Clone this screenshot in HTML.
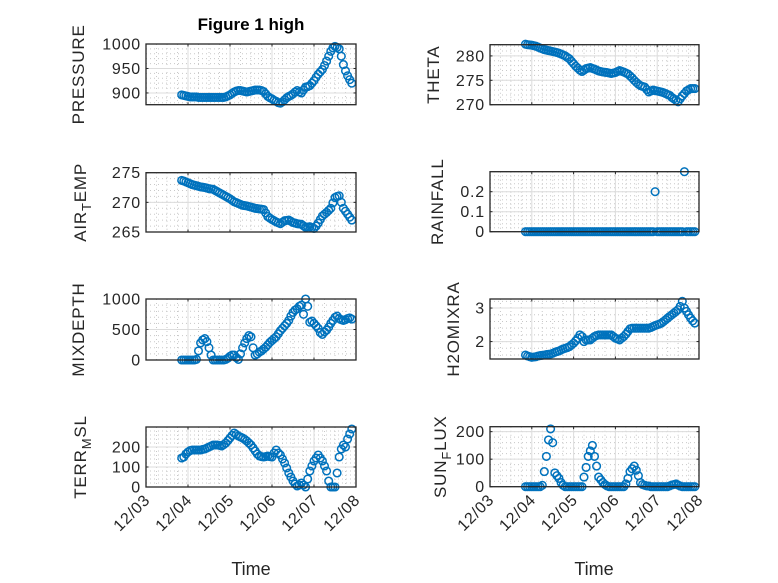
<!DOCTYPE html>
<html><head><meta charset="utf-8">
<style>
html,body{margin:0;padding:0;background:#fff;}
svg{display:block;font-family:"Liberation Sans",sans-serif;}
</style></head>
<body>
<svg id="fig" width="778" height="583" viewBox="0 0 778 583" xmlns="http://www.w3.org/2000/svg">
<rect width="778" height="583" fill="#fff"/>
<text x="251" y="30" text-anchor="middle" font-size="17" font-weight="bold" fill="#000">Figure 1 high</text>
<text x="251" y="575" text-anchor="middle" font-size="18" fill="#262626">Time</text>
<text x="594" y="575" text-anchor="middle" font-size="18" fill="#262626">Time</text>
</svg>
<script>
const T = [0.85,0.9,0.95,1.0,1.05,1.1,1.15,1.2,1.25,1.3,1.35,1.4,1.45,1.5,1.55,1.6,1.65,1.7,1.75,1.8,1.85,1.9,1.95,2.0,2.05,2.1,2.15,2.2,2.25,2.3,2.35,2.4,2.45,2.5,2.55,2.6,2.65,2.7,2.75,2.8,2.85,2.9,2.95,3.0,3.05,3.1,3.15,3.2,3.25,3.3,3.35,3.4,3.45,3.5,3.55,3.6,3.65,3.7,3.75,3.8,3.85,3.9,3.95,4.0,4.05,4.1,4.15,4.2,4.25,4.3,4.35,4.4,4.45,4.5,4.55,4.6,4.65,4.7,4.75,4.8,4.85,4.9];
const pressure = [896,895,894,893,892,892,892,892,891,891,891,891,891,891,891,891,891,891,891,891,891,892,894,896,899,902,904,905,905,904,903,902,903,904,905,906,906,906,905,903,898,893,890,888,885,883,880,879,882,886,890,893,895,898,902,905,902,900,906,912,913,915,920,925,932,938,943,948,956,965,975,985,992,995,993,990,975,958,945,935,927,920];
const airTemp = [273.7,273.6,273.45,273.3,273.15,273.0,272.9,272.8,272.7,272.6,272.55,272.5,272.4,272.3,272.25,272.2,272.0,271.8,271.6,271.4,271.2,271.0,270.8,270.6,270.35,270.1,269.95,269.8,269.65,269.5,269.45,269.4,269.3,269.2,269.1,269.0,268.95,268.9,268.85,268.8,268.2,267.6,267.35,267.1,266.9,266.7,266.55,266.4,266.65,266.9,266.95,267.0,266.8,266.6,266.5,266.4,266.35,266.3,266.05,265.8,265.85,265.9,265.75,265.6,266.0,266.5,267.1,267.7,268.0,268.3,268.65,269.0,269.9,270.8,271.0,271.1,270.0,269.0,268.5,268.0,267.5,267.0];
const mixDepth = [0,0,0,0,0,0,0,10,150,280,330,350,300,200,80,0,0,0,0,0,0,10,30,60,80,80,40,10,100,200,280,350,400,380,200,80,100,130,150,180,210,250,290,320,350,380,430,480,520,560,600,650,720,780,820,840,880,900,750,1000,880,620,640,600,560,520,450,420,460,490,540,600,650,700,720,680,660,650,660,680,690,670];
const terrMsl = [145,150,165,175,182,185,185,185,185,185,188,190,195,200,205,210,210,210,208,205,212,220,232,245,258,270,262,255,250,245,238,230,220,210,195,180,165,155,152,150,152,155,152,150,170,185,170,160,140,120,95,70,50,30,15,5,10,20,10,0,40,80,105,130,145,160,145,130,105,80,30,0,0,0,70,150,190,210,200,240,265,290];
const theta = [282.4,282.3,282.25,282.2,282.1,282.0,281.8,281.6,281.45,281.3,281.2,281.1,281.0,280.9,280.8,280.7,280.55,280.4,280.2,280.0,279.7,279.4,278.9,278.4,277.9,277.5,277.1,276.8,277.1,277.4,277.5,277.6,277.45,277.3,277.1,276.9,276.8,276.7,276.65,276.6,276.5,276.4,276.5,276.6,276.8,277.0,276.85,276.7,276.5,276.3,275.9,275.5,275.0,274.6,274.2,273.9,273.75,273.6,273.1,272.6,272.8,273.0,272.9,272.8,272.7,272.6,272.45,272.3,272.1,271.9,271.5,271.2,270.9,270.6,271.2,271.8,272.3,272.8,273.05,273.3,273.3,273.3];
const rainfall = [0,0,0,0,0,0,0,0,0,0, 0,0,0,0,0,0,0,0,0,0, 0,0,0,0,0,0,0,0,0,0, 0,0,0,0,0,0,0,0,0,0, 0,0,0,0,0,0,0,0,0,0, 0,0,0,0,0,0,0,0,0,0, 0,0,0.2,0,0,0,0,0,0,0, 0,0,0,0,0,0,0.3,0,0,0, 0,0];
const h2o = [1.6,1.57,1.55,1.53,1.54,1.55,1.57,1.58,1.59,1.6,1.61,1.62,1.63,1.65,1.68,1.7,1.72,1.75,1.78,1.8,1.82,1.85,1.9,1.95,2.02,2.1,2.2,2.15,2.0,2.05,2.05,2.05,2.1,2.15,2.18,2.2,2.2,2.2,2.2,2.2,2.2,2.2,2.15,2.1,2.08,2.05,2.1,2.15,2.22,2.3,2.38,2.4,2.4,2.4,2.4,2.4,2.4,2.4,2.4,2.4,2.42,2.45,2.48,2.5,2.52,2.55,2.6,2.65,2.7,2.75,2.8,2.85,2.9,2.95,3.05,3.2,3.0,2.9,2.8,2.7,2.62,2.55];
const sunFlux = [0,0,0,0,0,0,0,0,5,55,110,170,210,160,50,40,30,15,5,0,0,0,0,0,0,0,0,0,35,70,110,130,150,110,75,35,25,15,8,3,0,0,0,0,0,0,0,0,10,30,55,65,75,60,40,15,8,5,3,2,0,0,0,0,0,0,0,0,0,3,6,8,10,6,2,0,0,0,0,0,0,0];
const xTickLabels = ['12/03','12/04','12/05','12/06','12/07','12/08'];
const xTickDays = [0,1,2,3,4,5];

const NS='http://www.w3.org/2000/svg';
const svg=document.getElementById('fig');
function el(tag,attrs,parent){const e=document.createElementNS(NS,tag);for(const k in attrs)e.setAttribute(k,attrs[k]);(parent||svg).appendChild(e);return e;}

const panels=[
 {key:'pressure',x0:146,x1:356,y0:44,y1:104.7,ymin:876,ymax:1000,yt:[900,950,1000],ym:10,v:pressure,lab:['PRESSURE'],lx:84},
 {key:'air-temp',x0:146,x1:356,y0:172.7,y1:232,ymin:265,ymax:275,yt:[265,270,275],ym:1,v:airTemp,lab:['AIR','T','EMP'],lx:86},
 {key:'mixdepth',x0:146,x1:356,y0:299,y1:360,ymin:0,ymax:1000,yt:[0,500,1000],ym:100,v:mixDepth,lab:['MIXDEPTH'],lx:84},
 {key:'terr-msl',x0:146,x1:356,y0:427,y1:487,ymin:0,ymax:300,yt:[0,100,200],ym:20,v:terrMsl,lab:['TERR','M','SL'],lx:86},
 {key:'theta',x0:490,x1:699,y0:44.7,y1:104.7,ymin:270,ymax:282.3,yt:[270,275,280],ym:1,v:theta,lab:['THETA'],lx:439},
 {key:'rainfall',x0:490,x1:699,y0:171.7,y1:231.7,ymin:0,ymax:0.3,yt:[0,0.1,0.2],ym:0.02,v:rainfall,lab:['RAINFALL'],lx:443},
 {key:'h2omixra',x0:490,x1:699,y0:299,y1:359,ymin:1.48,ymax:3.27,yt:[2,3],ym:0.2,v:h2o,lab:['H2OMIXRA'],lx:459},
 {key:'sun-flux',x0:490,x1:699,y0:426.7,y1:486.7,ymin:0,ymax:218,yt:[0,100,200],ym:20,v:sunFlux,lab:['SUN','F','LUX'],lx:446}
];

panels.forEach((p,pi)=>{
  const g=el('g',{});
  
  
  const xs=d=>p.x0+(p.x1-p.x0)*d/5;
  const ys=v=>p.y1-(p.y1-p.y0)*(v-p.ymin)/(p.ymax-p.ymin);
  el('rect',{x:p.x0,y:p.y0,width:p.x1-p.x0,height:p.y1-p.y0,fill:'#fff'},g);
  for(let d=0;d<5;d+=0.25){if(d%1===0)continue;const x=xs(d);el('line',{x1:x,x2:x,y1:p.y0,y2:p.y1,stroke:'#c8c8c8','stroke-width':1,'stroke-dasharray':'1,3'},g);}
  const k0=Math.ceil(p.ymin/p.ym-1e-9);
  for(let k=k0;k*p.ym<=p.ymax+1e-9;k++){const v=k*p.ym;const y=ys(v);el('line',{x1:p.x0,x2:p.x1,y1:y,y2:y,stroke:'#c8c8c8','stroke-width':1,'stroke-dasharray':'1,3'},g);}
  xTickDays.forEach(d=>{const x=xs(d);el('line',{x1:x,x2:x,y1:p.y0,y2:p.y1,stroke:'#dcdcdc','stroke-width':1},g);});
  p.yt.forEach(v=>{const y=ys(v);el('line',{x1:p.x0,x2:p.x1,y1:y,y2:y,stroke:'#dcdcdc','stroke-width':1},g);});
  xTickDays.forEach(d=>{const x=xs(d);el('line',{x1:x,x2:x,y1:p.y1,y2:p.y1-2.5,stroke:'#262626'},g);el('line',{x1:x,x2:x,y1:p.y0,y2:p.y0+2.5,stroke:'#262626'},g);});
  p.yt.forEach(v=>{const y=ys(v);el('line',{x1:p.x0,x2:p.x0+2.5,y1:y,y2:y,stroke:'#262626'},g);el('line',{x1:p.x1,x2:p.x1-2.5,y1:y,y2:y,stroke:'#262626'},g);
    const t=el('text',{x:p.x0-5,y:y+5.5,'text-anchor':'end','font-size':16,'letter-spacing':0.8,fill:'#262626'},g);
    
    
    t.textContent=String(v);});
  for(let i=0;i<p.v.length;i++){
    const c=el('circle',{cx:xs(T[i]).toFixed(1),cy:ys(p.v[i]).toFixed(1),r:3.8,fill:'none',stroke:'#0072BD','stroke-width':1.5},g);
    
    
  }
  el('rect',{x:p.x0,y:p.y0,width:p.x1-p.x0,height:p.y1-p.y0,fill:'none',stroke:'#262626','stroke-width':1.3},g);
  const cy=(p.y0+p.y1)/2;
  const yl=el('text',{x:0,y:0,transform:`translate(${p.lx},${cy}) rotate(-90)`,'text-anchor':'middle','font-size':17,'letter-spacing':0.8,fill:'#262626'});
  
  
  if(p.lab.length===1){yl.textContent=p.lab[0];}
  else{
    const a=el('tspan',{},yl);a.textContent=p.lab[0];
    const b=el('tspan',{dy:5,'font-size':13},yl);b.textContent=p.lab[1];
    const c=el('tspan',{dy:-5},yl);c.textContent=p.lab[2];
  }
  if(pi===3||pi===7){
    xTickDays.forEach((d,i)=>{const x=xs(d);
      const t=el('text',{x:0,y:0,transform:`translate(${x+5},${p.y1+14}) rotate(-45)`,'text-anchor':'end','font-size':16,'letter-spacing':0.8,fill:'#262626'});
      
      
      t.textContent=xTickLabels[i];});
  }
});
</script>
</body></html>
